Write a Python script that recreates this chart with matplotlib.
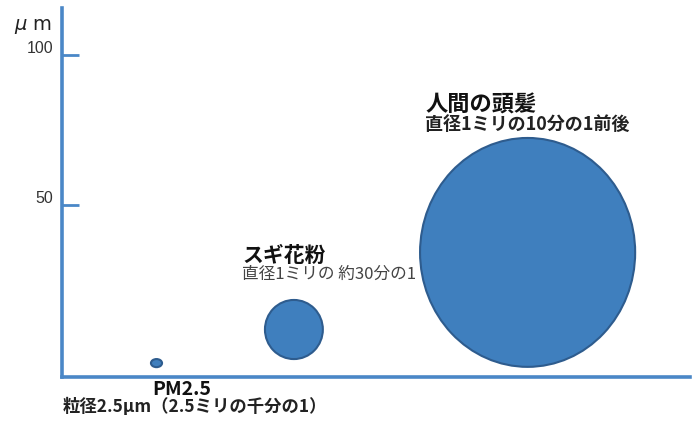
import matplotlib
matplotlib.use("Agg")
import matplotlib.pyplot as plt
from matplotlib.patches import Ellipse
import matplotlib.transforms as mtransforms

plt.rcParams['font.family'] = ['Noto Sans CJK JP', 'DejaVu Sans']

# Data (units: µm on the y scale; x scale uses the same units)
names = ["PM2.5", "スギ花粉", "人間の頭髪"]
subtitles = ["粒径2.5μm（2.5ミリの千分の1）", "直径1ミリの 約30分の1", "直径1ミリの10分の1前後"]
center_x = [31.5, 77.3, 155.2]
center_y = [-2.7, 8.5, 34.2]
widths = [3.7, 19.3, 71.7]
heights = [2.7, 19.7, 76.3]
yticks = [50, 100]
ytick_labels = ["50", "100"]
unit_label = r"$\mu$ m"

axis_color = "#4A87C7"
fill_color = "#3F7FBE"
edge_color = "#2E5C8E"

W, H = 695, 421
fig = plt.figure(figsize=(W / 100, H / 100), dpi=100)
ax = fig.add_axes([62 / W, (H - 377) / H, 628 / W, 369 / H])
ax.set_xlim(0, 209.33)
ax.set_ylim(-7.33, 115.67)

for cx, cy, w, h in zip(center_x, center_y, widths, heights):
    ax.add_patch(Ellipse((cx, cy), w, h, facecolor=fill_color,
                         edgecolor=edge_color, linewidth=1.5, zorder=3))

for s in ["top", "right"]:
    ax.spines[s].set_visible(False)
for s in ["left", "bottom"]:
    ax.spines[s].set_color(axis_color)
    ax.spines[s].set_linewidth(2.6)
ax.set_xticks([])
ax.set_yticks(yticks)
ax.set_yticklabels([])
ax.tick_params(axis="y", direction="in", length=12, width=2, color=axis_color)

# y tick labels sit slightly above their ticks
off = mtransforms.offset_copy(ax.get_yaxis_transform(), fig=fig, x=-9, y=7, units="dots")
for v, lab in zip(yticks, ytick_labels):
    ax.text(0, v, lab, transform=off, ha="right", va="center", fontsize=11.5,
            color="#333333", family=["Liberation Sans"])
ax.text(33 / W, 1 - 27 / H, unit_label, transform=fig.transFigure, ha="center",
        va="center", fontsize=14, color="#222222", family=["DejaVu Sans"])

# Labels
ax.text(121, 83.3, names[2], fontsize=16, fontweight="bold", ha="left", va="center", color="#111111")
ax.text(121, 77.0, subtitles[2], fontsize=13, fontweight="bold", ha="left", va="center", color="#222222")
ax.text(60, 33.3, names[1], fontsize=15, fontweight="bold", ha="left", va="center", color="#111111")
ax.text(60, 26.8, subtitles[1], fontsize=12, ha="left", va="center", color="#444444")
ax.text(39.8, -11.6, names[0], fontsize=14, fontweight="bold", ha="center", va="center",
        color="#111111", clip_on=False)
ax.text(0.3, -17.3, subtitles[0], fontsize=12.5, fontweight="bold", ha="left", va="center",
        color="#222222", clip_on=False)

fig.savefig("out.png", dpi=100)
